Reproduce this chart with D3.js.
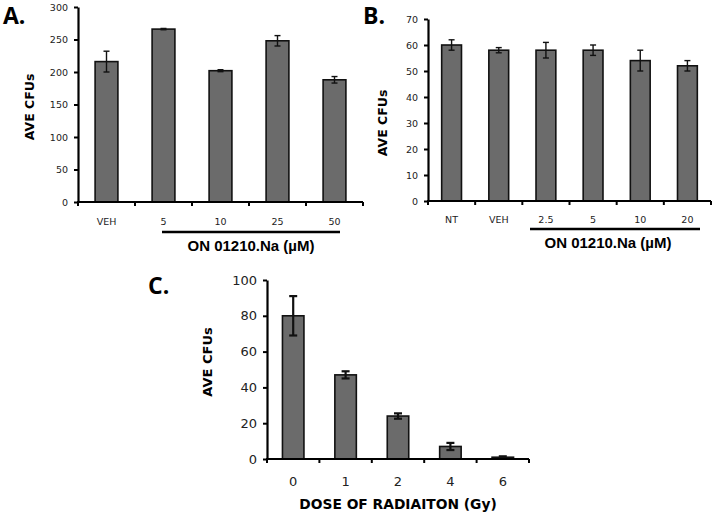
<!DOCTYPE html>
<html><head><meta charset="utf-8">
<script src="https://cdn.jsdelivr.net/npm/d3@7"></script>
<style>body{margin:0;background:#fff}svg{display:block}</style>
</head><body>
<script>
// Panel A
const catsA = ["VEH", "5", "10", "25", "50"];
const valsA = [216, 266, 202, 248, 188];
const errsA = [16, 1, 1.5, 8, 5];
const ticksA = [0, 50, 100, 150, 200, 250, 300];
// Panel B
const catsB = ["NT", "VEH", "2.5", "5", "10", "20"];
const valsB = [60, 58, 58, 58, 54, 52];
const errsB = [2, 1, 3, 2, 4, 2];
const ticksB = [0, 10, 20, 30, 40, 50, 60, 70];
// Panel C
const catsC = ["0", "1", "2", "4", "6"];
const valsC = [80, 47, 24, 7, 1];
const errsC = [11, 2, 1.5, 2, 0.5];
const ticksC = [0, 20, 40, 60, 80, 100];

const svg = d3.select("body").append("svg").attr("width", 715).attr("height", 514);

function panel(o) {
  const g = svg.append("g");
  const x = d3.scaleBand().domain(o.cats).range([o.x0, o.x1]).paddingInner(0).paddingOuter(0);
  const y = d3.scaleLinear().domain([0, o.max]).range([o.y0, o.y1]);
  const bw = x.bandwidth() * o.barFrac;
  g.selectAll("rect.bar").data(o.vals).enter().append("rect")
    .attr("x", (d, i) => x(o.cats[i]) + (x.bandwidth() - bw) / 2)
    .attr("y", d => y(d))
    .attr("width", bw)
    .attr("height", d => y(0) - y(d))
    .attr("fill", "#6b6b6b").attr("stroke", "#111").attr("stroke-width", 1.6);
  const eg = g.append("g").attr("stroke", "#111").attr("stroke-width", o.ew);
  o.vals.forEach((v, i) => {
    const cx = x(o.cats[i]) + x.bandwidth() / 2;
    const e = o.errs[i];
    eg.append("line").attr("x1", cx).attr("x2", cx).attr("y1", y(v + e)).attr("y2", y(v - e));
    eg.append("line").attr("x1", cx - o.cap).attr("x2", cx + o.cap).attr("y1", y(v + e)).attr("y2", y(v + e));
    eg.append("line").attr("x1", cx - o.cap).attr("x2", cx + o.cap).attr("y1", y(v - e)).attr("y2", y(v - e));
  });
  const ya = d3.axisLeft(y).tickValues(o.ticks).tickSize(4).tickPadding(o.tickPadY).tickSizeOuter(0);
  const yg = g.append("g").attr("transform", `translate(${o.x0},0)`).call(ya);
  yg.select(".domain").attr("stroke", "#000").attr("stroke-width", 2.2);
  yg.selectAll(".tick line").attr("stroke", "#000").attr("stroke-width", 2);
  yg.selectAll(".tick text").attr("font-family", "DejaVu Sans").attr("font-size", o.tickFont).attr("fill", "#222");
  g.append("line").attr("x1", o.x0 - 1).attr("x2", o.x1).attr("y1", o.y0).attr("y2", o.y0)
    .attr("stroke", "#000").attr("stroke-width", 2.2);
  const bounds = o.cats.map(c => x(c)).concat([o.x1]);
  g.selectAll("line.xt").data(bounds).enter().append("line")
    .attr("x1", d => d).attr("x2", d => d).attr("y1", o.y0).attr("y2", o.y0 + 4)
    .attr("stroke", "#000").attr("stroke-width", 2);
  g.selectAll("text.xl").data(o.cats).enter().append("text")
    .attr("x", d => x(d) + x.bandwidth() / 2).attr("y", o.xlY)
    .attr("text-anchor", "middle").attr("font-family", "DejaVu Sans").attr("font-size", o.tickFont).attr("fill", "#222")
    .text(d => d);
  g.append("text").attr("transform", `translate(${o.ytX},${o.ytY}) rotate(-90)`)
    .attr("text-anchor", "middle").attr("font-family", "DejaVu Sans").attr("font-weight", "bold")
    .attr("font-size", o.ytFont).attr("fill", "#000").text("AVE CFUs");
  g.append("text").attr("x", o.lx).attr("y", o.ly).attr("font-family", "Open Sans").attr("font-weight", "bold")
    .attr("font-size", 23).attr("fill", "#000").text(o.letter);
  return {g, x, y};
}

const A = panel({cats: catsA, vals: valsA, errs: errsA, ticks: ticksA, max: 300,
  x0: 78, x1: 363, y0: 202, y1: 7, barFrac: 0.4, ew: 1.4, cap: 3, tickFont: 9.5, tickPadY: 6,
  xlY: 225, ytX: 34, ytY: 107, ytFont: 12.5, lx: 3, ly: 24, letter: "A."});
A.g.append("line").attr("x1", 162).attr("x2", 340).attr("y1", 232).attr("y2", 232).attr("stroke", "#000").attr("stroke-width", 2.5);
A.g.append("text").attr("x", 251).attr("y", 251).attr("text-anchor", "middle").attr("font-family", "Liberation Sans")
  .attr("font-weight", "bold").attr("font-size", 15).text("ON 01210.Na (µM)");

const B = panel({cats: catsB, vals: valsB, errs: errsB, ticks: ticksB, max: 70,
  x0: 428, x1: 711, y0: 201, y1: 19, barFrac: 0.42, ew: 1.4, cap: 3, tickFont: 9.5, tickPadY: 6,
  xlY: 223, ytX: 387, ytY: 123, ytFont: 12.5, lx: 363, ly: 24, letter: "B."});
B.g.append("line").attr("x1", 530).attr("x2", 700).attr("y1", 229).attr("y2", 229).attr("stroke", "#000").attr("stroke-width", 2.5);
B.g.append("text").attr("x", 608).attr("y", 248).attr("text-anchor", "middle").attr("font-family", "Liberation Sans")
  .attr("font-weight", "bold").attr("font-size", 15).text("ON 01210.Na (µM)");

const C = panel({cats: catsC, vals: valsC, errs: errsC, ticks: ticksC, max: 100,
  x0: 267, x1: 529, y0: 459, y1: 280, barFrac: 0.41, ew: 2.2, cap: 4, tickFont: 13, tickPadY: 6,
  xlY: 486, ytX: 212, ytY: 362, ytFont: 13, lx: 148, ly: 294, letter: "C."});
C.g.append("text").attr("x", 398).attr("y", 509).attr("text-anchor", "middle").attr("font-family", "DejaVu Sans")
  .attr("font-weight", "bold").attr("font-size", 13.8).text("DOSE OF RADIAITON (Gy)");
</script>
</body></html>
